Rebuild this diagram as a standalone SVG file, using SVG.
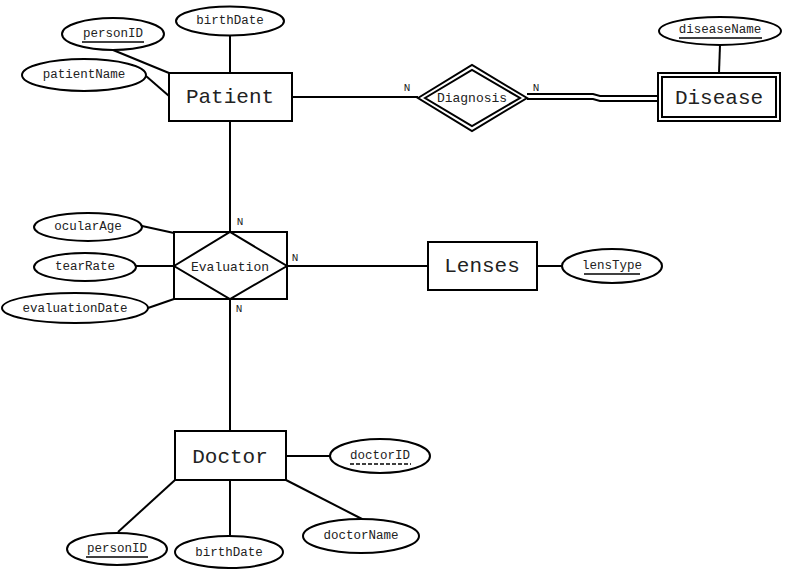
<svg xmlns="http://www.w3.org/2000/svg" width="786" height="573" viewBox="0 0 786 573">
  <style>
    .shape { fill: #ffffff; stroke: #000000; stroke-width: 2; }
    .line { fill: none; stroke: #000000; stroke-width: 2; }
    .ent { font-family: "Liberation Mono", "DejaVu Sans Mono", monospace; font-size: 21px; fill: #222222; text-anchor: middle; dominant-baseline: central; }
    .attr { font-family: "Liberation Mono", "DejaVu Sans Mono", monospace; font-size: 12.5px; fill: #222222; text-anchor: middle; dominant-baseline: central; }
    .rel { font-family: "Liberation Mono", "DejaVu Sans Mono", monospace; font-size: 13px; fill: #222222; text-anchor: middle; dominant-baseline: central; }
    .card { font-family: "Liberation Mono", "DejaVu Sans Mono", monospace; font-size: 11px; fill: #222222; text-anchor: middle; dominant-baseline: central; }
    .key { stroke: #000000; stroke-width: 1.5; }
    .partial { stroke: #000000; stroke-width: 1.5; stroke-dasharray: 4 2; }
  </style>
  <rect width="786" height="573" fill="#ffffff"/>

  <!-- connectors -->
  <g id="connectors">
    <line class="line" x1="230" y1="36" x2="230" y2="73"/>
    <line class="line" x1="113" y1="50" x2="169" y2="73"/>
    <line class="line" x1="146" y1="76" x2="169" y2="96"/>
    <line class="line" x1="292" y1="97" x2="418" y2="97"/>
    <path class="line" d="M527 94 L593 94 L600 96 L658 96" stroke-width="1.6"/>
    <path class="line" d="M527 99 L593 99 L600 101 L658 101" stroke-width="1.6"/>
    <line class="line" x1="720" y1="45" x2="719" y2="73"/>
    <line class="line" x1="230" y1="121" x2="230" y2="232"/>
    <line class="line" x1="142" y1="226" x2="174" y2="233"/>
    <line class="line" x1="135" y1="266" x2="174" y2="266"/>
    <line class="line" x1="148" y1="308" x2="174" y2="299"/>
    <line class="line" x1="287" y1="266" x2="428" y2="266"/>
    <line class="line" x1="537" y1="266" x2="563" y2="266"/>
    <line class="line" x1="230" y1="299" x2="230" y2="431"/>
    <line class="line" x1="286" y1="456" x2="330" y2="456"/>
    <line class="line" x1="175" y1="480" x2="118" y2="532"/>
    <line class="line" x1="230" y1="480" x2="230" y2="536"/>
    <line class="line" x1="286" y1="480" x2="362" y2="519"/>
    <text class="card" x="407" y="88">N</text>
    <text class="card" x="536" y="88">N</text>
    <text class="card" x="240" y="222">N</text>
    <text class="card" x="295" y="258">N</text>
    <text class="card" x="239" y="309">N</text>
  </g>

  <!-- Patient entity -->
  <g id="patient">
    <rect class="shape" x="169" y="73" width="123" height="48"/>
    <text class="ent" x="230" y="97">Patient</text>
  </g>
  <g id="patient-birthDate">
    <ellipse class="shape" cx="230" cy="21" rx="54" ry="14.5"/>
    <text class="attr" x="230" y="21">birthDate</text>
  </g>
  <g id="patient-personID">
    <ellipse class="shape" cx="113" cy="34" rx="51" ry="16"/>
    <text class="attr" x="113" y="34">personID</text>
    <line class="key" x1="82" y1="42" x2="144" y2="42"/>
  </g>
  <g id="patient-patientName">
    <ellipse class="shape" cx="84" cy="75" rx="62" ry="16"/>
    <text class="attr" x="84" y="75">patientName</text>
  </g>

  <!-- Diagnosis relationship (identifying) -->
  <g id="diagnosis">
    <polygon class="shape" points="418,98 472,65 527,98 472,131"/>
    <polygon class="shape" points="425,98 472,70 520,98 472,126"/>
    <text class="rel" x="472" y="98">Diagnosis</text>
  </g>

  <!-- Disease weak entity -->
  <g id="disease">
    <rect class="shape" x="658" y="73" width="122" height="48"/>
    <rect class="shape" x="662" y="77" width="114" height="40"/>
    <text class="ent" x="719" y="98">Disease</text>
  </g>
  <g id="disease-diseaseName">
    <ellipse class="shape" cx="720" cy="31" rx="61" ry="14"/>
    <text class="attr" x="720" y="30">diseaseName</text>
    <line class="key" x1="679" y1="38" x2="762" y2="38"/>
  </g>

  <!-- Evaluation associative entity -->
  <g id="evaluation">
    <rect class="shape" x="174" y="232" width="113" height="67"/>
    <polygon class="shape" points="174,266 230,232 287,266 230,299"/>
    <text class="rel" x="230" y="267" font-size="14">Evaluation</text>
  </g>
  <g id="evaluation-ocularAge">
    <ellipse class="shape" cx="88" cy="227" rx="54" ry="14"/>
    <text class="attr" x="88" y="227">ocularAge</text>
  </g>
  <g id="evaluation-tearRate">
    <ellipse class="shape" cx="85" cy="267" rx="51" ry="14"/>
    <text class="attr" x="85" y="267">tearRate</text>
  </g>
  <g id="evaluation-evaluationDate">
    <ellipse class="shape" cx="75" cy="308" rx="73" ry="15"/>
    <text class="attr" x="75" y="309">evaluationDate</text>
  </g>

  <!-- Lenses entity -->
  <g id="lenses">
    <rect class="shape" x="428" y="242" width="109" height="48"/>
    <text class="ent" x="482" y="266">Lenses</text>
  </g>
  <g id="lenses-lensType">
    <ellipse class="shape" cx="612" cy="266" rx="50" ry="17"/>
    <text class="attr" x="612" y="266" font-size="11px">lensType</text>
    <line class="key" x1="584" y1="274" x2="640" y2="274"/>
  </g>

  <!-- Doctor entity -->
  <g id="doctor">
    <rect class="shape" x="175" y="431" width="111" height="49"/>
    <text class="ent" x="230" y="457">Doctor</text>
  </g>
  <g id="doctor-doctorID">
    <ellipse class="shape" cx="380" cy="456" rx="50" ry="17"/>
    <text class="attr" x="380" y="456">doctorID</text>
    <line class="partial" x1="350" y1="464" x2="411" y2="464"/>
  </g>
  <g id="doctor-personID">
    <ellipse class="shape" cx="117" cy="549" rx="50" ry="16"/>
    <text class="attr" x="117" y="549">personID</text>
    <line class="key" x1="86" y1="557" x2="148" y2="557"/>
  </g>
  <g id="doctor-birthDate">
    <ellipse class="shape" cx="229" cy="552" rx="54" ry="16"/>
    <text class="attr" x="229" y="553">birthDate</text>
  </g>
  <g id="doctor-doctorName">
    <ellipse class="shape" cx="361" cy="536" rx="58" ry="17"/>
    <text class="attr" x="361" y="536">doctorName</text>
  </g>
</svg>
